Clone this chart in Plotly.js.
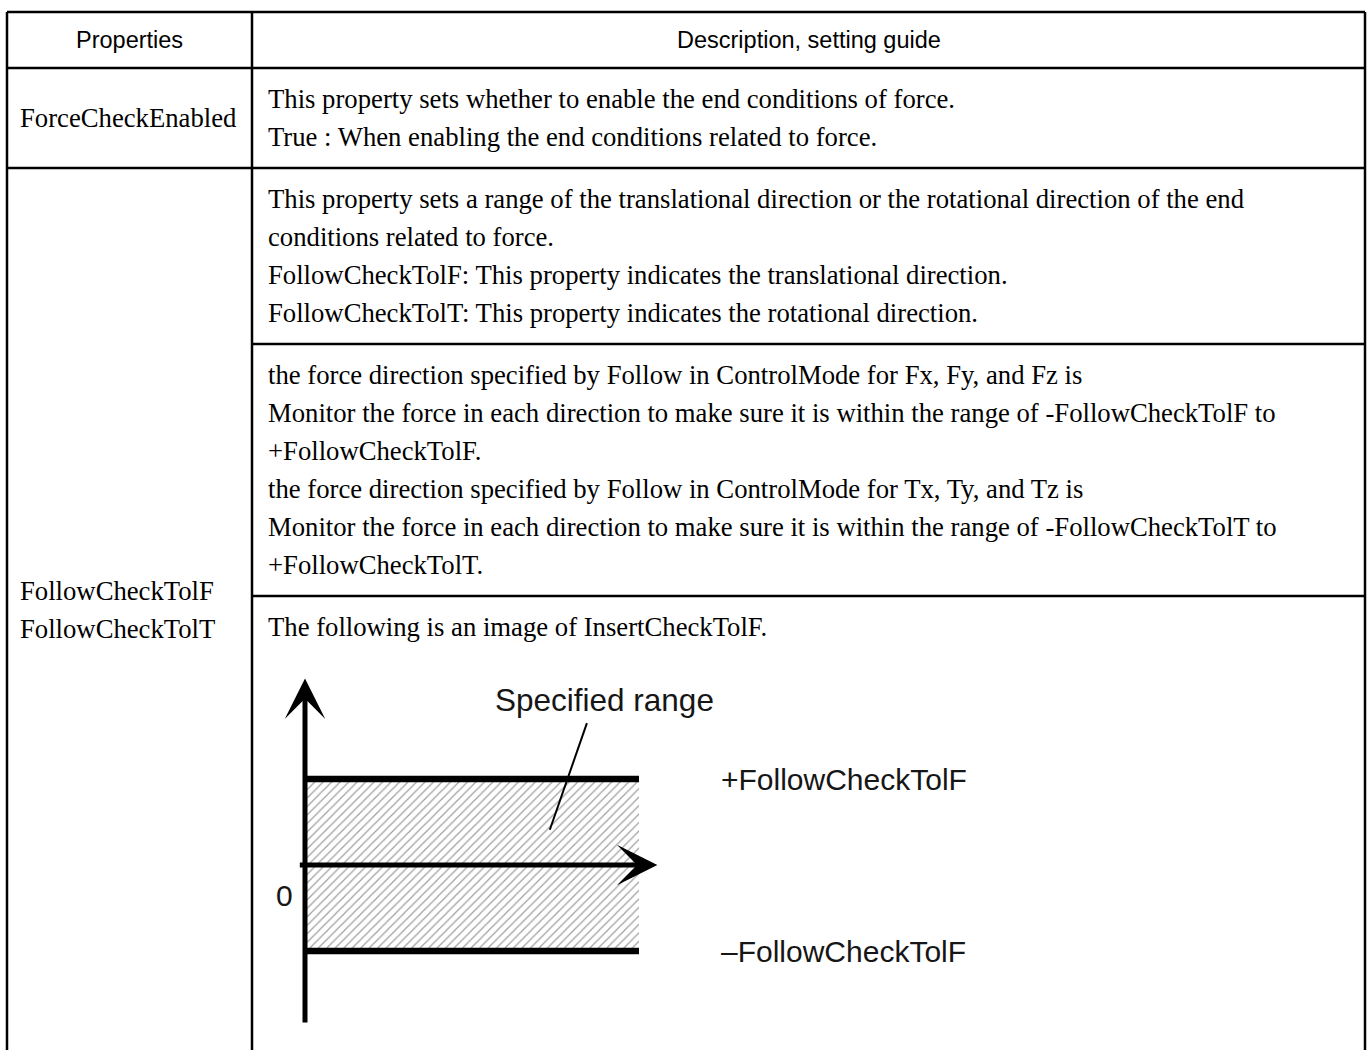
<!DOCTYPE html>
<html><head><meta charset="utf-8">
<script src="https://cdn.plot.ly/plotly-3.0.1.min.js"></script>
<style>html,body{margin:0;padding:0;background:#fff;overflow:hidden}#chart{width:1368px;height:1050px}</style>
</head><body><div id="chart"></div>
<script>
// ---------- table content ----------
const headerLabels = ["Properties", "Description, setting guide"];
const propertyRow1 = ["ForceCheckEnabled"];
const propertyRow2 = ["FollowCheckTolF", "FollowCheckTolT"];
const descForceCheck = [
  "This property sets whether to enable the end conditions of force.",
  "True : When enabling the end conditions related to force."
];
const descRange = [
  "This property sets a range of the translational direction or the rotational direction of the end",
  "conditions related to force.",
  "FollowCheckTolF: This property indicates the translational direction.",
  "FollowCheckTolT: This property indicates the rotational direction."
];
const descMonitor = [
  "the force direction specified by Follow in ControlMode for Fx, Fy, and Fz is",
  "Monitor the force in each direction to make sure it is within the range of -FollowCheckTolF to",
  "+FollowCheckTolF.",
  "the force direction specified by Follow in ControlMode for Tx, Ty, and Tz is",
  "Monitor the force in each direction to make sure it is within the range of -FollowCheckTolT to",
  "+FollowCheckTolT."
];
const descImage = ["The following is an image of InsertCheckTolF."];

// ---------- diagram values ----------
const timeSpan = [0, 10];            // extent of the tolerance band
const tolLevels = [1, -1];           // +FollowCheckTolF, -FollowCheckTolF
const tolLabels = ["+FollowCheckTolF", "\u2013FollowCheckTolF"];
const timeAxisSpan = [-0.2, 10.55];
const forceAxisSpan = [-1.85, 2.17];
const originLabel = "0";
const rangeLabel = "Specified range";
const leaderX = [7.33, 8.44];
const leaderY = [0.41, 1.65];

// ---------- geometry ----------
const W = 1368, H = 1050;
const L = 7, R = 1365, C = 252, TOP = 12, HB = 68;
const PAD = 31, GAP = 38;
const BOTTOM = H + 2;
const px = x => x / W, py = y => 1 - y / H;
const serif = {family: "Liberation Serif, Times New Roman, serif", size: 26.7, color: "#000"};
const sans = {family: "Liberation Sans, Arial, sans-serif", size: 23.5, color: "#000"};
const lw = 2.5;

const shapes = [];
const annotations = [];
function hline(y, x0, x1) { shapes.push({type: "line", xref: "paper", yref: "paper", x0: px(x0), x1: px(x1), y0: py(y), y1: py(y), line: {color: "#000", width: lw}}); }
function vline(x, y0, y1) { shapes.push({type: "line", xref: "paper", yref: "paper", x0: px(x), x1: px(x), y0: py(y0), y1: py(y1), line: {color: "#000", width: lw}}); }
function txt(x, y, s, font, anchor) { annotations.push({xref: "paper", yref: "paper", x: px(x), y: py(y), text: s, showarrow: false, xanchor: anchor || "left", yanchor: "middle", font: font}); }

// frame
hline(TOP, L, R); hline(HB, L, R);
vline(L, TOP, BOTTOM); vline(R, TOP, BOTTOM); vline(C, TOP, BOTTOM);
txt((L + C) / 2, (TOP + HB) / 2, headerLabels[0], sans, "center");
txt((C + R) / 2, (TOP + HB) / 2, headerLabels[1], sans, "center");

// right column cells
let y = HB;
const cells = [descForceCheck, descRange, descMonitor, descImage];
const cellTops = [];
cells.forEach((lines, i) => {
  cellTops.push(y);
  lines.forEach((s, k) => txt(C + 14, y + PAD + k * GAP, s, serif));
  if (i < cells.length - 1) {
    y += 2 * PAD + (lines.length - 1) * GAP;
    hline(y, i === 0 ? L : C, R);
  }
});
// left column
const row1Mid = (cellTops[0] + cellTops[1]) / 2;
propertyRow1.forEach((s, k) => txt(L + 11, row1Mid + (k - (propertyRow1.length - 1) / 2) * GAP, s, serif));
const row2Mid = (cellTops[1] + BOTTOM) / 2;
propertyRow2.forEach((s, k) => txt(L + 11, row2Mid + (k - (propertyRow2.length - 1) / 2) * GAP, s, serif));

// ---------- diagram axes (pixel calibration) ----------
const X0 = 305, SX = 33.4, Y0 = 865, SY = 86;
const dx0 = 260, dx1 = 1100, dy0 = 650, dy1 = 1045;
const xaxis = {domain: [px(dx0), px(dx1)], range: [(dx0 - X0) / SX, (dx1 - X0) / SX], visible: false, fixedrange: true};
const yaxis = {domain: [py(dy1), py(dy0)], range: [(Y0 - dy1) / SY, (Y0 - dy0) / SY], visible: false, fixedrange: true};

const diagFont = {family: "Liberation Sans, Arial, sans-serif", size: 30, color: "#161616"};
const rangeFont = {family: "Liberation Sans, Arial, sans-serif", size: 31.5, color: "#161616"};
const traces = [];
// hatched band
traces.push({type: "scatter", mode: "lines", x: [timeSpan[0], timeSpan[1], timeSpan[1], timeSpan[0], timeSpan[0]],
  y: [tolLevels[0], tolLevels[0], tolLevels[1], tolLevels[1], tolLevels[0]], fill: "toself",
  fillcolor: "rgba(255,255,255,0)", fillpattern: {shape: "/", size: 6, solidity: 0.2, fgcolor: "#a0a0a0", bgcolor: "#fff"},
  line: {width: 0}, hoverinfo: "skip", showlegend: false});
// tolerance lines
tolLevels.forEach(v => traces.push({type: "scatter", mode: "lines", x: timeSpan, y: [v, v], line: {color: "#000", width: 6.5}, hoverinfo: "skip", showlegend: false}));
// leader line
traces.push({type: "scatter", mode: "lines", x: leaderX, y: leaderY, line: {color: "#000", width: 2}, hoverinfo: "skip", showlegend: false});

// axes with arrowheads
annotations.push({xref: "x", yref: "y", axref: "x", ayref: "y", x: 0, y: forceAxisSpan[1], ax: 0, ay: forceAxisSpan[0], text: "", showarrow: true, arrowhead: 3, arrowsize: 1.35, arrowwidth: 5, arrowcolor: "#000", standoff: 0});
annotations.push({xref: "x", yref: "y", axref: "x", ayref: "y", x: timeAxisSpan[1], y: 0, ax: timeAxisSpan[0], ay: 0, text: "", showarrow: true, arrowhead: 3, arrowsize: 1.35, arrowwidth: 5, arrowcolor: "#000", standoff: 0});
// labels
tolLabels.forEach((s, i) => annotations.push({xref: "x", yref: "y", x: timeSpan[1] + 2.4, y: tolLevels[i], text: s, showarrow: false, xanchor: "left", yanchor: "middle", font: diagFont}));
annotations.push({xref: "x", yref: "y", x: -0.6, y: -0.35, text: originLabel, showarrow: false, xanchor: "center", yanchor: "middle", font: diagFont});
annotations.push({xref: "x", yref: "y", x: leaderX[1] - 2.8, y: leaderY[1] + 0.27, text: rangeLabel, showarrow: false, xanchor: "left", yanchor: "middle", font: rangeFont});

const layout = {width: W, height: H, margin: {l: 0, r: 0, t: 0, b: 0}, paper_bgcolor: "#fff", plot_bgcolor: "rgba(0,0,0,0)",
  xaxis, yaxis, shapes, annotations, showlegend: false};
Plotly.newPlot("chart", traces, layout, {staticPlot: true, displayModeBar: false});
</script></body></html>
